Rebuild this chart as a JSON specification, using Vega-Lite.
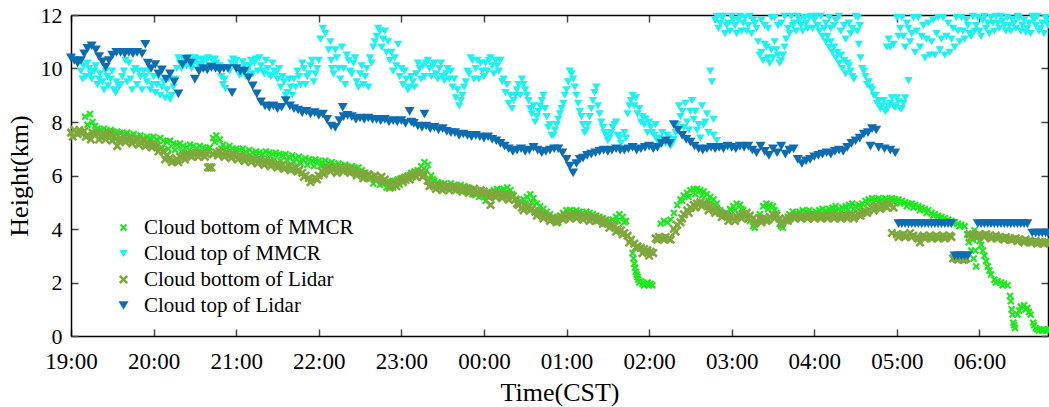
{
"$schema":"https://vega.github.io/schema/vega-lite/v6.json",
"width":977,"height":321,
"autosize":{"type":"none"},
"padding":{"left":71,"top":15,"right":1,"bottom":71},
"background":"white",
"config":{"view":{"stroke":null},"font":"Liberation Serif"},
"datasets":{
"pts":[
{"s":"MB","t":0.17,"h":8.2},{"s":"MB","t":0.2,"h":7.9},{"s":"MB","t":0.23,"h":8.3},{"s":"MB","t":0.26,"h":8.0},{"s":"MB","t":0.29,"h":7.85},{"s":"MB","t":0.32,"h":7.75},{"s":"MB","t":0.36,"h":7.7},{"s":"MB","t":0.4,"h":7.75},{"s":"MB","t":0.44,"h":7.65},{"s":"MB","t":0.48,"h":7.7},{"s":"MB","t":0.52,"h":7.6},{"s":"MB","t":0.56,"h":7.65},{"s":"MB","t":0.6,"h":7.6},{"s":"MB","t":0.64,"h":7.55},{"s":"MB","t":0.68,"h":7.6},{"s":"MB","t":0.72,"h":7.5},{"s":"MB","t":0.76,"h":7.55},{"s":"MB","t":0.8,"h":7.45},{"s":"MB","t":0.84,"h":7.5},{"s":"MB","t":0.88,"h":7.4},{"s":"MB","t":0.92,"h":7.45},{"s":"MB","t":0.96,"h":7.4},{"s":"MB","t":1.0,"h":7.45},{"s":"MB","t":1.04,"h":7.35},{"s":"MB","t":1.08,"h":7.4},{"s":"MB","t":1.12,"h":7.3},{"s":"MB","t":1.16,"h":7.25},{"s":"MB","t":1.2,"h":7.3},{"s":"MB","t":1.24,"h":7.2},{"s":"MB","t":1.28,"h":7.15},{"s":"MB","t":1.32,"h":7.2},{"s":"MB","t":1.36,"h":7.1},{"s":"MB","t":1.4,"h":7.05},{"s":"MB","t":1.44,"h":7.15},{"s":"MB","t":1.48,"h":7.1},{"s":"MB","t":1.52,"h":7.0},{"s":"MB","t":1.56,"h":7.1},{"s":"MB","t":1.6,"h":7.05},{"s":"MB","t":1.64,"h":7.0},{"s":"MB","t":1.68,"h":7.05},{"s":"MB","t":1.72,"h":7.4},{"s":"MB","t":1.76,"h":7.5},{"s":"MB","t":1.8,"h":7.35},{"s":"MB","t":1.84,"h":7.15},{"s":"MB","t":1.88,"h":7.05},{"s":"MB","t":1.92,"h":7.1},{"s":"MB","t":1.96,"h":7.0},
{"s":"MB","t":2.0,"h":7.0},{"s":"MB","t":2.04,"h":6.95},{"s":"MB","t":2.08,"h":7.0},{"s":"MB","t":2.12,"h":6.9},{"s":"MB","t":2.16,"h":6.95},{"s":"MB","t":2.2,"h":6.85},{"s":"MB","t":2.24,"h":6.9},{"s":"MB","t":2.28,"h":6.85},{"s":"MB","t":2.32,"h":6.8},{"s":"MB","t":2.36,"h":6.9},{"s":"MB","t":2.4,"h":6.85},{"s":"MB","t":2.44,"h":6.8},{"s":"MB","t":2.48,"h":6.85},{"s":"MB","t":2.52,"h":6.8},{"s":"MB","t":2.56,"h":6.75},{"s":"MB","t":2.6,"h":6.8},{"s":"MB","t":2.64,"h":6.7},{"s":"MB","t":2.68,"h":6.75},{"s":"MB","t":2.72,"h":6.65},{"s":"MB","t":2.76,"h":6.7},{"s":"MB","t":2.8,"h":6.6},{"s":"MB","t":2.84,"h":6.65},{"s":"MB","t":2.88,"h":6.6},{"s":"MB","t":2.92,"h":6.55},{"s":"MB","t":2.96,"h":6.6},{"s":"MB","t":3.0,"h":6.55},{"s":"MB","t":3.04,"h":6.5},{"s":"MB","t":3.08,"h":6.55},{"s":"MB","t":3.12,"h":6.45},{"s":"MB","t":3.16,"h":6.5},{"s":"MB","t":3.2,"h":6.4},{"s":"MB","t":3.24,"h":6.45},{"s":"MB","t":3.28,"h":6.35},{"s":"MB","t":3.32,"h":6.4},{"s":"MB","t":3.36,"h":6.3},{"s":"MB","t":3.4,"h":6.35},{"s":"MB","t":3.44,"h":6.25},{"s":"MB","t":3.48,"h":6.3},{"s":"MB","t":3.52,"h":6.2},{"s":"MB","t":3.56,"h":6.1},{"s":"MB","t":3.6,"h":6.0},{"s":"MB","t":3.64,"h":5.95},{"s":"MB","t":3.68,"h":5.85},{"s":"MB","t":3.72,"h":5.9},{"s":"MB","t":3.76,"h":5.8},{"s":"MB","t":3.8,"h":5.75},{"s":"MB","t":3.84,"h":5.8},{"s":"MB","t":3.88,"h":5.7},{"s":"MB","t":3.92,"h":5.8},{"s":"MB","t":3.96,"h":5.85},{"s":"MB","t":4.0,"h":5.9},{"s":"MB","t":4.04,"h":5.95},{"s":"MB","t":4.08,"h":6.0},{"s":"MB","t":4.12,"h":6.1},{"s":"MB","t":4.16,"h":6.15},{"s":"MB","t":4.2,"h":6.2},{"s":"MB","t":4.24,"h":6.35},{"s":"MB","t":4.28,"h":6.5},{"s":"MB","t":4.32,"h":6.4},{"s":"MB","t":4.36,"h":6.0},
{"s":"MB","t":4.4,"h":5.8},{"s":"MB","t":4.44,"h":5.75},{"s":"MB","t":4.48,"h":5.7},{"s":"MB","t":4.52,"h":5.7},{"s":"MB","t":4.56,"h":5.65},{"s":"MB","t":4.6,"h":5.7},{"s":"MB","t":4.64,"h":5.65},{"s":"MB","t":4.68,"h":5.6},{"s":"MB","t":4.72,"h":5.65},{"s":"MB","t":4.76,"h":5.6},{"s":"MB","t":4.8,"h":5.55},{"s":"MB","t":4.84,"h":5.5},{"s":"MB","t":4.88,"h":5.45},{"s":"MB","t":4.92,"h":5.35},{"s":"MB","t":4.96,"h":5.25},{"s":"MB","t":5.0,"h":5.2},{"s":"MB","t":5.04,"h":5.25},{"s":"MB","t":5.08,"h":5.35},{"s":"MB","t":5.12,"h":5.45},{"s":"MB","t":5.16,"h":5.5},{"s":"MB","t":5.2,"h":5.45},{"s":"MB","t":5.24,"h":5.5},{"s":"MB","t":5.28,"h":5.55},{"s":"MB","t":5.32,"h":5.45},{"s":"MB","t":5.36,"h":5.25},{"s":"MB","t":5.4,"h":5.1},{"s":"MB","t":5.44,"h":5.05},{"s":"MB","t":5.48,"h":5.1},{"s":"MB","t":5.52,"h":5.2},{"s":"MB","t":5.56,"h":5.3},{"s":"MB","t":5.6,"h":5.15},{"s":"MB","t":5.64,"h":4.95},{"s":"MB","t":5.68,"h":4.85},{"s":"MB","t":5.72,"h":4.75},{"s":"MB","t":5.76,"h":4.65},{"s":"MB","t":5.8,"h":4.55},{"s":"MB","t":5.84,"h":4.45},{"s":"MB","t":5.88,"h":4.4},{"s":"MB","t":5.92,"h":4.5},{"s":"MB","t":5.96,"h":4.6},{"s":"MB","t":6.0,"h":4.7},{"s":"MB","t":6.04,"h":4.7},{"s":"MB","t":6.08,"h":4.65},{"s":"MB","t":6.12,"h":4.7},{"s":"MB","t":6.16,"h":4.65},{"s":"MB","t":6.2,"h":4.6},{"s":"MB","t":6.24,"h":4.65},{"s":"MB","t":6.28,"h":4.6},{"s":"MB","t":6.32,"h":4.55},{"s":"MB","t":6.36,"h":4.5},{"s":"MB","t":6.4,"h":4.45},{"s":"MB","t":6.44,"h":4.4},{"s":"MB","t":6.48,"h":4.35},{"s":"MB","t":6.52,"h":4.3},{"s":"MB","t":6.56,"h":4.35},{"s":"MB","t":6.6,"h":4.45},{"s":"MB","t":6.64,"h":4.55},{"s":"MB","t":6.68,"h":4.45},{"s":"MB","t":6.72,"h":4.3},{"s":"MB","t":6.8,"h":3.1},{"s":"MB","t":6.82,"h":2.7},{"s":"MB","t":6.84,"h":2.4},{"s":"MB","t":6.86,"h":2.2},{"s":"MB","t":6.88,"h":2.0},{"s":"MB","t":6.92,"h":1.95},{"s":"MB","t":6.96,"h":1.95},{"s":"MB","t":7.0,"h":1.9},{"s":"MB","t":7.04,"h":1.9},
{"s":"MB","t":7.14,"h":4.2},{"s":"MB","t":7.18,"h":4.3},{"s":"MB","t":7.22,"h":4.25},{"s":"MB","t":7.26,"h":4.35},{"s":"MB","t":7.3,"h":4.6},{"s":"MB","t":7.34,"h":4.9},{"s":"MB","t":7.38,"h":5.1},{"s":"MB","t":7.42,"h":5.25},{"s":"MB","t":7.46,"h":5.35},{"s":"MB","t":7.5,"h":5.45},{"s":"MB","t":7.54,"h":5.5},{"s":"MB","t":7.58,"h":5.5},{"s":"MB","t":7.62,"h":5.45},{"s":"MB","t":7.66,"h":5.4},{"s":"MB","t":7.7,"h":5.3},{"s":"MB","t":7.74,"h":5.2},{"s":"MB","t":7.78,"h":5.1},{"s":"MB","t":7.82,"h":4.95},{"s":"MB","t":7.86,"h":4.7},{"s":"MB","t":7.9,"h":4.5},{"s":"MB","t":7.94,"h":4.6},{"s":"MB","t":7.98,"h":4.75},{"s":"MB","t":8.02,"h":4.85},{"s":"MB","t":8.06,"h":4.95},{"s":"MB","t":8.1,"h":4.9},{"s":"MB","t":8.14,"h":4.7},{"s":"MB","t":8.18,"h":4.5},{"s":"MB","t":8.22,"h":4.3},{"s":"MB","t":8.26,"h":4.1},{"s":"MB","t":8.3,"h":4.25},{"s":"MB","t":8.34,"h":4.55},{"s":"MB","t":8.38,"h":4.85},{"s":"MB","t":8.42,"h":4.95},{"s":"MB","t":8.46,"h":4.9},{"s":"MB","t":8.5,"h":4.85},{"s":"MB","t":8.54,"h":4.6},{"s":"MB","t":8.58,"h":4.2},{"s":"MB","t":8.62,"h":4.05},{"s":"MB","t":8.66,"h":4.3},{"s":"MB","t":8.7,"h":4.55},{"s":"MB","t":8.74,"h":4.65},{"s":"MB","t":8.78,"h":4.6},{"s":"MB","t":8.82,"h":4.65},{"s":"MB","t":8.86,"h":4.7},{"s":"MB","t":8.9,"h":4.65},{"s":"MB","t":8.94,"h":4.7},{"s":"MB","t":8.98,"h":4.6},{"s":"MB","t":9.02,"h":4.65},{"s":"MB","t":9.06,"h":4.7},{"s":"MB","t":9.1,"h":4.75},{"s":"MB","t":9.14,"h":4.7},{"s":"MB","t":9.18,"h":4.75},{"s":"MB","t":9.22,"h":4.8},{"s":"MB","t":9.26,"h":4.85},{"s":"MB","t":9.3,"h":4.75},{"s":"MB","t":9.34,"h":4.8},{"s":"MB","t":9.38,"h":4.85},{"s":"MB","t":9.42,"h":4.9},{"s":"MB","t":9.46,"h":4.95},{"s":"MB","t":9.5,"h":4.85},{"s":"MB","t":9.54,"h":4.9},{"s":"MB","t":9.58,"h":4.95},{"s":"MB","t":9.62,"h":5.05},{"s":"MB","t":9.66,"h":5.1},{"s":"MB","t":9.7,"h":5.15},{"s":"MB","t":9.74,"h":5.1},{"s":"MB","t":9.78,"h":5.15},{"s":"MB","t":9.82,"h":5.1},{"s":"MB","t":9.86,"h":5.15},{"s":"MB","t":9.9,"h":5.1},{"s":"MB","t":9.94,"h":5.15},{"s":"MB","t":9.98,"h":5.1},{"s":"MB","t":10.02,"h":5.1},{"s":"MB","t":10.06,"h":5.05},{"s":"MB","t":10.1,"h":5.0},{"s":"MB","t":10.14,"h":4.95},{"s":"MB","t":10.18,"h":4.95},{"s":"MB","t":10.22,"h":4.9},{"s":"MB","t":10.26,"h":4.85},{"s":"MB","t":10.3,"h":4.8},{"s":"MB","t":10.34,"h":4.75},{"s":"MB","t":10.38,"h":4.7},{"s":"MB","t":10.42,"h":4.6},{"s":"MB","t":10.46,"h":4.55},{"s":"MB","t":10.5,"h":4.5},{"s":"MB","t":10.54,"h":4.45},{"s":"MB","t":10.58,"h":4.4},{"s":"MB","t":10.62,"h":4.35},{"s":"MB","t":10.66,"h":4.3},{"s":"MB","t":10.7,"h":4.25},{"s":"MB","t":10.74,"h":4.2},{"s":"MB","t":10.78,"h":4.15},{"s":"MB","t":10.82,"h":4.1},{"s":"MB","t":10.85,"h":3.8},{"s":"MB","t":10.87,"h":3.5},{"s":"MB","t":10.9,"h":3.2},{"s":"MB","t":10.93,"h":2.9},{"s":"MB","t":10.96,"h":2.6},{"s":"MB","t":10.94,"h":3.95},{"s":"MB","t":10.98,"h":3.7},{"s":"MB","t":11.02,"h":3.4},{"s":"MB","t":11.06,"h":3.0},{"s":"MB","t":11.1,"h":2.6},{"s":"MB","t":11.14,"h":2.3},{"s":"MB","t":11.18,"h":2.1},{"s":"MB","t":11.22,"h":2.05},{"s":"MB","t":11.26,"h":2.0},{"s":"MB","t":11.3,"h":1.95},{"s":"MB","t":11.34,"h":1.9},{"s":"MB","t":11.37,"h":1.5},{"s":"MB","t":11.39,"h":1.0},{"s":"MB","t":11.41,"h":0.5},{"s":"MB","t":11.43,"h":0.3},{"s":"MB","t":11.46,"h":0.8},{"s":"MB","t":11.5,"h":1.1},{"s":"MB","t":11.54,"h":1.15},{"s":"MB","t":11.58,"h":1.05},{"s":"MB","t":11.62,"h":0.8},{"s":"MB","t":11.65,"h":0.5},{"s":"MB","t":11.68,"h":0.3},{"s":"MB","t":11.72,"h":0.2},{"s":"MB","t":11.76,"h":0.2},{"s":"MB","t":11.8,"h":0.2},{"s":"MB","t":11.83,"h":0.2},
{"s":"MB","t":0.3,"h":7.6},{"s":"MB","t":0.38,"h":7.45},{"s":"MB","t":0.46,"h":7.4},{"s":"MB","t":0.54,"h":7.35},{"s":"MB","t":0.62,"h":7.3},{"s":"MB","t":0.7,"h":7.3},{"s":"MB","t":0.78,"h":7.25},{"s":"MB","t":0.86,"h":7.2},{"s":"MB","t":0.94,"h":7.15},{"s":"MB","t":1.02,"h":7.15},{"s":"MB","t":1.1,"h":7.05},{"s":"MB","t":1.18,"h":7.0},{"s":"MB","t":1.26,"h":6.95},{"s":"MB","t":1.34,"h":6.9},{"s":"MB","t":1.42,"h":6.85},{"s":"MB","t":1.5,"h":6.85},{"s":"MB","t":1.58,"h":6.85},{"s":"MB","t":1.66,"h":6.9},{"s":"MB","t":1.74,"h":7.25},{"s":"MB","t":1.82,"h":7.0},{"s":"MB","t":1.9,"h":6.85},{"s":"MB","t":1.98,"h":6.8},{"s":"MB","t":2.06,"h":6.75},{"s":"MB","t":2.14,"h":6.7},{"s":"MB","t":2.22,"h":6.65},{"s":"MB","t":2.3,"h":6.6},{"s":"MB","t":2.38,"h":6.65},{"s":"MB","t":2.46,"h":6.6},{"s":"MB","t":2.54,"h":6.55},{"s":"MB","t":2.62,"h":6.55},{"s":"MB","t":2.7,"h":6.5},{"s":"MB","t":2.78,"h":6.45},{"s":"MB","t":2.86,"h":6.4},{"s":"MB","t":2.94,"h":6.35},{"s":"MB","t":3.02,"h":6.35},{"s":"MB","t":3.1,"h":6.3},{"s":"MB","t":3.18,"h":6.25},{"s":"MB","t":3.26,"h":6.2},{"s":"MB","t":3.34,"h":6.15},{"s":"MB","t":3.42,"h":6.1},{"s":"MB","t":3.5,"h":6.05},{"s":"MB","t":3.58,"h":5.9},{"s":"MB","t":3.66,"h":5.7},{"s":"MB","t":3.74,"h":5.65},{"s":"MB","t":3.82,"h":5.55},{"s":"MB","t":3.9,"h":5.55},{"s":"MB","t":3.98,"h":5.65},{"s":"MB","t":4.06,"h":5.8},{"s":"MB","t":4.14,"h":5.95},{"s":"MB","t":4.22,"h":6.05},{"s":"MB","t":4.3,"h":6.2},{"s":"MB","t":4.38,"h":5.85},{"s":"MB","t":4.46,"h":5.5},{"s":"MB","t":4.54,"h":5.5},{"s":"MB","t":4.62,"h":5.5},{"s":"MB","t":4.7,"h":5.45},{"s":"MB","t":4.78,"h":5.4},{"s":"MB","t":4.86,"h":5.3},{"s":"MB","t":4.94,"h":5.2},{"s":"MB","t":5.02,"h":5.05},{"s":"MB","t":5.1,"h":5.2},{"s":"MB","t":5.18,"h":5.3},{"s":"MB","t":5.26,"h":5.35},{"s":"MB","t":5.34,"h":5.3},{"s":"MB","t":5.42,"h":4.9},{"s":"MB","t":5.5,"h":4.95},{"s":"MB","t":5.58,"h":5.0},{"s":"MB","t":5.66,"h":4.7},{"s":"MB","t":5.74,"h":4.55},{"s":"MB","t":5.82,"h":4.35},{"s":"MB","t":5.9,"h":4.25},{"s":"MB","t":5.98,"h":4.45},{"s":"MB","t":6.06,"h":4.5},{"s":"MB","t":6.14,"h":4.5},{"s":"MB","t":6.22,"h":4.45},{"s":"MB","t":6.3,"h":4.4},{"s":"MB","t":6.38,"h":4.3},{"s":"MB","t":6.46,"h":4.2},{"s":"MB","t":6.54,"h":4.15},{"s":"MB","t":6.62,"h":4.3},{"s":"MB","t":6.7,"h":4.25},{"s":"MB","t":6.81,"h":2.9},{"s":"MB","t":6.83,"h":2.55},{"s":"MB","t":6.85,"h":2.3},{"s":"MB","t":6.87,"h":2.1},{"s":"MB","t":6.9,"h":2.05},{"s":"MB","t":6.94,"h":1.9},{"s":"MB","t":6.98,"h":2.0},{"s":"MB","t":7.02,"h":1.95},{"s":"MB","t":7.4,"h":5.05},{"s":"MB","t":7.48,"h":5.2},{"s":"MB","t":7.56,"h":5.3},{"s":"MB","t":7.64,"h":5.25},{"s":"MB","t":7.72,"h":5.05},{"s":"MB","t":7.8,"h":4.9},{"s":"MB","t":7.88,"h":4.55},{"s":"MB","t":7.96,"h":4.5},{"s":"MB","t":8.04,"h":4.7},{"s":"MB","t":8.12,"h":4.75},{"s":"MB","t":8.2,"h":4.4},{"s":"MB","t":8.28,"h":4.05},{"s":"MB","t":8.36,"h":4.4},{"s":"MB","t":8.44,"h":4.75},{"s":"MB","t":8.52,"h":4.7},{"s":"MB","t":8.6,"h":4.1},{"s":"MB","t":8.68,"h":4.45},{"s":"MB","t":8.76,"h":4.45},{"s":"MB","t":8.84,"h":4.5},{"s":"MB","t":8.92,"h":4.55},{"s":"MB","t":9.0,"h":4.5},{"s":"MB","t":9.08,"h":4.55},{"s":"MB","t":9.16,"h":4.6},{"s":"MB","t":9.24,"h":4.65},{"s":"MB","t":9.32,"h":4.65},{"s":"MB","t":9.4,"h":4.7},{"s":"MB","t":9.48,"h":4.75},{"s":"MB","t":9.56,"h":4.8},{"s":"MB","t":9.64,"h":4.95},{"s":"MB","t":9.72,"h":5.0},{"s":"MB","t":9.8,"h":5.0},{"s":"MB","t":9.88,"h":5.0},{"s":"MB","t":9.96,"h":5.0},{"s":"MB","t":10.04,"h":4.95},{"s":"MB","t":10.12,"h":4.85},{"s":"MB","t":10.2,"h":4.8},{"s":"MB","t":10.28,"h":4.7},{"s":"MB","t":10.36,"h":4.6},{"s":"MB","t":10.44,"h":4.5},{"s":"MB","t":10.52,"h":4.4},{"s":"MB","t":10.6,"h":4.3},{"s":"MB","t":10.68,"h":4.2},{"s":"MB","t":10.76,"h":4.1},{"s":"MB","t":10.92,"h":3.6},{"s":"MB","t":10.95,"h":3.2},{"s":"MB","t":11.0,"h":3.55},{"s":"MB","t":11.04,"h":3.2},{"s":"MB","t":11.08,"h":2.8},{"s":"MB","t":11.12,"h":2.45},{"s":"MB","t":11.2,"h":2.0},{"s":"MB","t":11.28,"h":1.9},{"s":"MB","t":11.38,"h":1.3},{"s":"MB","t":11.4,"h":0.8},{"s":"MB","t":11.42,"h":0.4},{"s":"MB","t":11.48,"h":0.95},{"s":"MB","t":11.56,"h":1.0},{"s":"MB","t":11.6,"h":0.9},{"s":"MB","t":11.66,"h":0.4},{"s":"MB","t":11.7,"h":0.25},{"s":"MB","t":11.78,"h":0.25},{"s":"MB","t":11.82,"h":0.25},

{"s":"MT","t":0.12,"h":9.9},{"s":"MT","t":0.15,"h":10.1},{"s":"MT","t":0.18,"h":9.7},{"s":"MT","t":0.22,"h":10.0},{"s":"MT","t":0.25,"h":9.6},{"s":"MT","t":0.28,"h":9.9},{"s":"MT","t":0.32,"h":9.4},{"s":"MT","t":0.35,"h":9.8},{"s":"MT","t":0.38,"h":9.5},{"s":"MT","t":0.42,"h":9.9},{"s":"MT","t":0.45,"h":9.35},{"s":"MT","t":0.48,"h":9.6},{"s":"MT","t":0.52,"h":9.2},{"s":"MT","t":0.55,"h":9.5},{"s":"MT","t":0.58,"h":9.3},{"s":"MT","t":0.62,"h":9.7},{"s":"MT","t":0.66,"h":10.3},{"s":"MT","t":0.7,"h":10.2},{"s":"MT","t":0.72,"h":9.6},{"s":"MT","t":0.76,"h":9.9},{"s":"MT","t":0.8,"h":9.4},{"s":"MT","t":0.84,"h":9.7},{"s":"MT","t":0.88,"h":9.9},{"s":"MT","t":0.92,"h":9.5},{"s":"MT","t":0.96,"h":9.2},{"s":"MT","t":1.0,"h":9.7},{"s":"MT","t":1.04,"h":9.4},{"s":"MT","t":1.08,"h":9.0},{"s":"MT","t":1.12,"h":9.5},{"s":"MT","t":1.16,"h":9.2},{"s":"MT","t":1.2,"h":8.85},{"s":"MT","t":1.24,"h":9.3},{"s":"MT","t":1.28,"h":10.0},{"s":"MT","t":1.32,"h":10.2},{"s":"MT","t":1.36,"h":10.35},{"s":"MT","t":1.4,"h":10.1},{"s":"MT","t":1.44,"h":10.3},{"s":"MT","t":1.48,"h":10.2},{"s":"MT","t":1.52,"h":10.3},{"s":"MT","t":1.56,"h":10.15},{"s":"MT","t":1.6,"h":10.25},{"s":"MT","t":1.64,"h":10.3},{"s":"MT","t":1.68,"h":10.1},{"s":"MT","t":1.72,"h":10.25},{"s":"MT","t":1.76,"h":10.2},{"s":"MT","t":1.8,"h":10.1},{"s":"MT","t":1.84,"h":9.4},{"s":"MT","t":1.87,"h":9.25},{"s":"MT","t":1.9,"h":10.0},{"s":"MT","t":1.94,"h":10.2},{"s":"MT","t":1.98,"h":10.1},{"s":"MT","t":2.02,"h":10.0},{"s":"MT","t":2.06,"h":9.8},{"s":"MT","t":2.1,"h":10.1},{"s":"MT","t":2.14,"h":9.9},{"s":"MT","t":2.18,"h":10.3},{"s":"MT","t":2.22,"h":10.2},{"s":"MT","t":2.26,"h":9.9},{"s":"MT","t":2.3,"h":10.1},{"s":"MT","t":2.34,"h":9.8},{"s":"MT","t":2.38,"h":10.0},{"s":"MT","t":2.42,"h":9.7},{"s":"MT","t":2.46,"h":9.9},{"s":"MT","t":2.5,"h":9.6},{"s":"MT","t":2.54,"h":9.3},{"s":"MT","t":2.58,"h":9.5},{"s":"MT","t":2.62,"h":9.1},{"s":"MT","t":2.66,"h":9.3},{"s":"MT","t":2.7,"h":9.6},{"s":"MT","t":2.74,"h":9.9},{"s":"MT","t":2.78,"h":9.4},{"s":"MT","t":2.82,"h":10.0},{"s":"MT","t":2.86,"h":9.7},{"s":"MT","t":2.9,"h":10.1},{"s":"MT","t":2.94,"h":9.5},{"s":"MT","t":2.98,"h":10.0},{"s":"MT","t":3.02,"h":11.1},{"s":"MT","t":3.05,"h":11.5},{"s":"MT","t":3.08,"h":11.3},{"s":"MT","t":3.12,"h":10.7},{"s":"MT","t":3.15,"h":10.3},{"s":"MT","t":3.18,"h":9.8},{"s":"MT","t":3.22,"h":10.4},{"s":"MT","t":3.26,"h":9.6},{"s":"MT","t":3.3,"h":10.0},{"s":"MT","t":3.34,"h":10.5},{"s":"MT","t":3.38,"h":9.9},{"s":"MT","t":3.42,"h":10.2},{"s":"MT","t":3.46,"h":9.5},{"s":"MT","t":3.5,"h":9.8},{"s":"MT","t":3.54,"h":9.4},{"s":"MT","t":3.58,"h":10.0},{"s":"MT","t":3.62,"h":10.4},{"s":"MT","t":3.66,"h":10.8},{"s":"MT","t":3.7,"h":11.2},{"s":"MT","t":3.74,"h":11.4},{"s":"MT","t":3.78,"h":11.1},{"s":"MT","t":3.82,"h":10.6},{"s":"MT","t":3.86,"h":10.3},{"s":"MT","t":3.9,"h":9.9},{"s":"MT","t":3.94,"h":10.1},{"s":"MT","t":3.98,"h":9.7},{"s":"MT","t":4.02,"h":9.4},{"s":"MT","t":4.06,"h":9.6},{"s":"MT","t":4.1,"h":9.3},{"s":"MT","t":4.14,"h":9.5},{"s":"MT","t":4.18,"h":9.8},{"s":"MT","t":4.22,"h":10.0},{"s":"MT","t":4.26,"h":10.1},{"s":"MT","t":4.3,"h":10.2},{"s":"MT","t":4.34,"h":10.0},{"s":"MT","t":4.38,"h":10.1},{"s":"MT","t":4.42,"h":9.8},{"s":"MT","t":4.46,"h":10.0},{"s":"MT","t":4.5,"h":9.7},{"s":"MT","t":4.54,"h":9.8},{"s":"MT","t":4.58,"h":9.6},{"s":"MT","t":4.62,"h":9.3},{"s":"MT","t":4.66,"h":8.9},{"s":"MT","t":4.7,"h":8.6},{"s":"MT","t":4.74,"h":9.0},{"s":"MT","t":4.78,"h":9.5},{"s":"MT","t":4.82,"h":9.8},{"s":"MT","t":4.86,"h":10.3},{"s":"MT","t":4.9,"h":10.0},{"s":"MT","t":4.94,"h":9.6},{"s":"MT","t":4.98,"h":9.9},{"s":"MT","t":5.02,"h":10.2},{"s":"MT","t":5.06,"h":10.3},{"s":"MT","t":5.1,"h":10.1},{"s":"MT","t":5.14,"h":10.3},{"s":"MT","t":5.18,"h":9.9},{"s":"MT","t":5.22,"h":9.5},{"s":"MT","t":5.26,"h":9.1},{"s":"MT","t":5.3,"h":8.7},{"s":"MT","t":5.34,"h":8.5},{"s":"MT","t":5.38,"h":9.0},{"s":"MT","t":5.42,"h":9.4},{"s":"MT","t":5.46,"h":9.6},{"s":"MT","t":5.5,"h":9.2},{"s":"MT","t":5.54,"h":8.8},{"s":"MT","t":5.58,"h":8.3},{"s":"MT","t":5.62,"h":8.0},{"s":"MT","t":5.66,"h":8.4},{"s":"MT","t":5.7,"h":8.8},{"s":"MT","t":5.74,"h":8.5},{"s":"MT","t":5.78,"h":7.8},{"s":"MT","t":5.82,"h":7.5},{"s":"MT","t":5.86,"h":7.7},{"s":"MT","t":5.9,"h":8.1},{"s":"MT","t":5.94,"h":8.5},{"s":"MT","t":5.98,"h":9.0},{"s":"MT","t":6.02,"h":9.5},{"s":"MT","t":6.06,"h":9.8},{"s":"MT","t":6.1,"h":9.3},{"s":"MT","t":6.14,"h":8.7},{"s":"MT","t":6.18,"h":8.2},{"s":"MT","t":6.22,"h":7.6},{"s":"MT","t":6.26,"h":7.9},{"s":"MT","t":6.3,"h":8.5},{"s":"MT","t":6.34,"h":9.1},{"s":"MT","t":6.38,"h":8.6},{"s":"MT","t":6.42,"h":8.0},{"s":"MT","t":6.46,"h":7.6},{"s":"MT","t":6.5,"h":7.3},{"s":"MT","t":6.54,"h":7.6},{"s":"MT","t":6.58,"h":7.9},{"s":"MT","t":6.62,"h":7.5},{"s":"MT","t":6.66,"h":7.2},{"s":"MT","t":6.7,"h":7.6},{"s":"MT","t":6.74,"h":8.3},{"s":"MT","t":6.78,"h":8.8},{"s":"MT","t":6.82,"h":8.6},{"s":"MT","t":6.86,"h":8.3},{"s":"MT","t":6.9,"h":8.0},{"s":"MT","t":6.94,"h":7.9},{"s":"MT","t":6.98,"h":7.6},{"s":"MT","t":7.02,"h":7.8},{"s":"MT","t":7.06,"h":7.5},{"s":"MT","t":7.1,"h":7.3},{"s":"MT","t":7.14,"h":7.15},{"s":"MT","t":7.18,"h":7.3},{"s":"MT","t":7.22,"h":7.5},{"s":"MT","t":7.26,"h":7.1},{"s":"MT","t":7.3,"h":7.35},{"s":"MT","t":7.34,"h":7.9},{"s":"MT","t":7.38,"h":8.2},{"s":"MT","t":7.42,"h":7.8},{"s":"MT","t":7.46,"h":8.0},{"s":"MT","t":7.5,"h":8.4},{"s":"MT","t":7.54,"h":8.1},{"s":"MT","t":7.58,"h":7.7},{"s":"MT","t":7.62,"h":7.4},{"s":"MT","t":7.66,"h":7.9},{"s":"MT","t":7.7,"h":8.3},{"s":"MT","t":7.74,"h":9.9},{"s":"MT","t":7.76,"h":9.5},{"s":"MT","t":7.78,"h":8.1},
{"s":"MT","t":7.8,"h":11.8},{"s":"MT","t":7.84,"h":11.5},{"s":"MT","t":7.88,"h":11.9},{"s":"MT","t":7.92,"h":11.3},{"s":"MT","t":7.96,"h":11.7},{"s":"MT","t":8.0,"h":11.95},{"s":"MT","t":8.04,"h":11.6},{"s":"MT","t":8.08,"h":11.8},{"s":"MT","t":8.12,"h":11.4},{"s":"MT","t":8.16,"h":11.9},{"s":"MT","t":8.2,"h":11.6},{"s":"MT","t":8.24,"h":11.3},{"s":"MT","t":8.28,"h":11.7},{"s":"MT","t":8.32,"h":11.0},{"s":"MT","t":8.36,"h":10.6},{"s":"MT","t":8.4,"h":10.9},{"s":"MT","t":8.44,"h":10.4},{"s":"MT","t":8.48,"h":10.7},{"s":"MT","t":8.52,"h":11.0},{"s":"MT","t":8.56,"h":10.5},{"s":"MT","t":8.6,"h":10.3},{"s":"MT","t":8.64,"h":10.8},{"s":"MT","t":8.36,"h":11.8},{"s":"MT","t":8.44,"h":11.5},{"s":"MT","t":8.52,"h":11.9},{"s":"MT","t":8.6,"h":11.7},{"s":"MT","t":8.68,"h":11.5},{"s":"MT","t":8.72,"h":11.95},{"s":"MT","t":8.76,"h":11.7},{"s":"MT","t":8.8,"h":11.95},{"s":"MT","t":8.84,"h":11.6},{"s":"MT","t":8.88,"h":11.9},{"s":"MT","t":8.92,"h":11.5},{"s":"MT","t":8.96,"h":11.95},{"s":"MT","t":9.0,"h":11.8},{"s":"MT","t":9.04,"h":11.6},{"s":"MT","t":9.08,"h":11.95},{"s":"MT","t":9.1,"h":11.2},{"s":"MT","t":9.14,"h":11.0},{"s":"MT","t":9.18,"h":10.8},{"s":"MT","t":9.22,"h":10.6},{"s":"MT","t":9.26,"h":10.4},{"s":"MT","t":9.3,"h":10.2},{"s":"MT","t":9.34,"h":10.0},{"s":"MT","t":9.38,"h":9.8},{"s":"MT","t":9.42,"h":10.1},{"s":"MT","t":9.46,"h":9.7},{"s":"MT","t":9.14,"h":11.7},{"s":"MT","t":9.2,"h":11.5},{"s":"MT","t":9.26,"h":11.8},{"s":"MT","t":9.32,"h":11.4},{"s":"MT","t":9.38,"h":11.1},{"s":"MT","t":9.44,"h":11.3},{"s":"MT","t":9.5,"h":11.95},{"s":"MT","t":9.52,"h":11.4},{"s":"MT","t":9.54,"h":10.9},{"s":"MT","t":9.56,"h":10.4},{"s":"MT","t":9.58,"h":10.0},{"s":"MT","t":9.62,"h":9.7},{"s":"MT","t":9.66,"h":9.5},{"s":"MT","t":9.7,"h":9.2},{"s":"MT","t":9.74,"h":9.0},{"s":"MT","t":9.78,"h":8.8},{"s":"MT","t":9.82,"h":8.6},{"s":"MT","t":9.86,"h":8.4},{"s":"MT","t":9.9,"h":8.6},{"s":"MT","t":9.94,"h":8.9},{"s":"MT","t":9.98,"h":8.55},{"s":"MT","t":10.02,"h":8.75},{"s":"MT","t":10.06,"h":8.5},{"s":"MT","t":10.1,"h":8.9},{"s":"MT","t":10.14,"h":9.55},{"s":"MT","t":9.9,"h":11.1},{"s":"MT","t":9.92,"h":10.8},{"s":"MT","t":9.96,"h":10.9},
{"s":"MT","t":10.0,"h":11.9},{"s":"MT","t":10.04,"h":11.5},{"s":"MT","t":10.08,"h":11.2},{"s":"MT","t":10.12,"h":11.7},{"s":"MT","t":10.16,"h":11.0},{"s":"MT","t":10.2,"h":11.9},{"s":"MT","t":10.24,"h":11.4},{"s":"MT","t":10.28,"h":10.8},{"s":"MT","t":10.32,"h":11.6},{"s":"MT","t":10.36,"h":11.1},{"s":"MT","t":10.4,"h":10.5},{"s":"MT","t":10.44,"h":11.8},{"s":"MT","t":10.48,"h":11.3},{"s":"MT","t":10.52,"h":10.7},{"s":"MT","t":10.56,"h":11.9},{"s":"MT","t":10.6,"h":11.2},{"s":"MT","t":10.64,"h":10.6},{"s":"MT","t":10.68,"h":11.5},{"s":"MT","t":10.72,"h":11.9},{"s":"MT","t":10.76,"h":11.0},{"s":"MT","t":10.8,"h":11.4},{"s":"MT","t":10.84,"h":11.8},{"s":"MT","t":10.88,"h":11.3},{"s":"MT","t":10.92,"h":11.95},{"s":"MT","t":10.96,"h":11.6},{"s":"MT","t":11.0,"h":11.4},{"s":"MT","t":11.04,"h":11.8},{"s":"MT","t":11.08,"h":11.5},{"s":"MT","t":11.12,"h":11.3},{"s":"MT","t":11.16,"h":11.7},{"s":"MT","t":11.2,"h":11.95},{"s":"MT","t":11.24,"h":11.5},{"s":"MT","t":11.28,"h":11.75},{"s":"MT","t":11.32,"h":11.4},{"s":"MT","t":11.36,"h":11.6},{"s":"MT","t":11.4,"h":11.85},{"s":"MT","t":11.44,"h":11.5},{"s":"MT","t":11.48,"h":11.9},{"s":"MT","t":11.52,"h":11.6},{"s":"MT","t":11.56,"h":11.35},{"s":"MT","t":11.6,"h":11.7},{"s":"MT","t":11.64,"h":11.95},{"s":"MT","t":11.68,"h":11.6},{"s":"MT","t":11.72,"h":11.4},{"s":"MT","t":11.76,"h":11.7},{"s":"MT","t":11.8,"h":11.9},{"s":"MT","t":11.83,"h":11.6},
{"s":"MT","t":0.14,"h":9.6},{"s":"MT","t":0.2,"h":10.2},{"s":"MT","t":0.24,"h":9.8},{"s":"MT","t":0.3,"h":10.1},{"s":"MT","t":0.34,"h":9.6},{"s":"MT","t":0.4,"h":9.2},{"s":"MT","t":0.44,"h":9.7},{"s":"MT","t":0.5,"h":9.9},{"s":"MT","t":0.54,"h":9.1},{"s":"MT","t":0.6,"h":9.4},{"s":"MT","t":0.64,"h":9.9},{"s":"MT","t":0.68,"h":9.5},{"s":"MT","t":0.74,"h":9.2},{"s":"MT","t":0.78,"h":10.0},{"s":"MT","t":0.82,"h":9.9},{"s":"MT","t":0.86,"h":9.2},{"s":"MT","t":0.9,"h":9.7},{"s":"MT","t":0.94,"h":9.9},{"s":"MT","t":0.98,"h":9.4},{"s":"MT","t":1.02,"h":9.1},{"s":"MT","t":1.06,"h":9.7},{"s":"MT","t":1.1,"h":9.3},{"s":"MT","t":1.14,"h":8.9},{"s":"MT","t":1.18,"h":9.6},{"s":"MT","t":1.22,"h":9.0},{"s":"MT","t":1.26,"h":9.6},{"s":"MT","t":1.3,"h":10.4},{"s":"MT","t":1.34,"h":10.0},{"s":"MT","t":1.38,"h":10.2},{"s":"MT","t":1.42,"h":10.4},{"s":"MT","t":1.46,"h":10.0},{"s":"MT","t":1.5,"h":10.4},{"s":"MT","t":1.54,"h":10.1},{"s":"MT","t":1.58,"h":10.35},{"s":"MT","t":1.62,"h":10.0},{"s":"MT","t":1.66,"h":10.4},{"s":"MT","t":1.7,"h":10.0},{"s":"MT","t":1.74,"h":10.35},{"s":"MT","t":1.78,"h":10.0},{"s":"MT","t":1.82,"h":9.7},{"s":"MT","t":1.86,"h":9.6},{"s":"MT","t":1.92,"h":9.9},{"s":"MT","t":1.96,"h":10.35},{"s":"MT","t":2.0,"h":10.3},{"s":"MT","t":2.04,"h":9.75},{"s":"MT","t":2.08,"h":10.25},{"s":"MT","t":2.12,"h":9.7},{"s":"MT","t":2.16,"h":10.1},{"s":"MT","t":2.2,"h":9.8},{"s":"MT","t":2.24,"h":10.35},{"s":"MT","t":2.28,"h":10.4},{"s":"MT","t":2.32,"h":9.9},{"s":"MT","t":2.36,"h":10.3},{"s":"MT","t":2.4,"h":9.75},{"s":"MT","t":2.44,"h":10.2},{"s":"MT","t":2.48,"h":9.8},{"s":"MT","t":2.52,"h":10.0},{"s":"MT","t":2.56,"h":9.7},{"s":"MT","t":2.6,"h":9.0},{"s":"MT","t":2.64,"h":9.6},{"s":"MT","t":2.68,"h":9.0},{"s":"MT","t":2.72,"h":9.3},{"s":"MT","t":2.76,"h":9.7},{"s":"MT","t":2.8,"h":10.2},{"s":"MT","t":2.84,"h":9.4},{"s":"MT","t":2.88,"h":9.8},{"s":"MT","t":2.92,"h":10.3},{"s":"MT","t":2.96,"h":9.8},{"s":"MT","t":3.0,"h":10.3},{"s":"MT","t":3.14,"h":11.0},{"s":"MT","t":3.16,"h":10.0},{"s":"MT","t":3.2,"h":10.7},{"s":"MT","t":3.24,"h":10.0},{"s":"MT","t":3.28,"h":10.8},{"s":"MT","t":3.32,"h":9.4},{"s":"MT","t":3.36,"h":10.3},{"s":"MT","t":3.4,"h":9.8},{"s":"MT","t":3.44,"h":10.4},{"s":"MT","t":3.48,"h":9.3},{"s":"MT","t":3.52,"h":10.1},{"s":"MT","t":3.56,"h":9.7},{"s":"MT","t":3.6,"h":9.3},{"s":"MT","t":3.64,"h":10.2},{"s":"MT","t":3.68,"h":11.0},{"s":"MT","t":3.72,"h":11.5},{"s":"MT","t":3.76,"h":10.8},{"s":"MT","t":3.8,"h":11.4},{"s":"MT","t":3.84,"h":11.0},{"s":"MT","t":3.88,"h":10.6},{"s":"MT","t":3.92,"h":10.4},{"s":"MT","t":3.96,"h":10.9},{"s":"MT","t":4.0,"h":10.0},{"s":"MT","t":4.04,"h":9.9},{"s":"MT","t":4.08,"h":9.2},{"s":"MT","t":4.12,"h":9.7},{"s":"MT","t":4.16,"h":9.3},{"s":"MT","t":4.2,"h":10.2},{"s":"MT","t":4.24,"h":9.6},{"s":"MT","t":4.28,"h":9.7},{"s":"MT","t":4.32,"h":10.3},{"s":"MT","t":4.36,"h":9.7},{"s":"MT","t":4.4,"h":10.2},{"s":"MT","t":4.44,"h":9.6},{"s":"MT","t":4.48,"h":10.2},{"s":"MT","t":4.52,"h":9.55},{"s":"MT","t":4.56,"h":10.0},{"s":"MT","t":4.6,"h":9.9},{"s":"MT","t":4.64,"h":9.6},{"s":"MT","t":4.68,"h":9.2},{"s":"MT","t":4.72,"h":8.8},{"s":"MT","t":4.76,"h":9.3},{"s":"MT","t":4.8,"h":9.9},{"s":"MT","t":4.84,"h":10.4},{"s":"MT","t":4.88,"h":9.6},{"s":"MT","t":4.92,"h":10.3},{"s":"MT","t":4.96,"h":10.2},{"s":"MT","t":5.0,"h":9.7},{"s":"MT","t":5.04,"h":9.9},{"s":"MT","t":5.08,"h":10.4},{"s":"MT","t":5.12,"h":9.8},{"s":"MT","t":5.16,"h":10.1},{"s":"MT","t":5.2,"h":10.3},{"s":"MT","t":5.24,"h":9.6},{"s":"MT","t":5.28,"h":9.4},{"s":"MT","t":5.32,"h":9.0},{"s":"MT","t":5.36,"h":8.8},{"s":"MT","t":5.4,"h":9.2},{"s":"MT","t":5.44,"h":9.0},{"s":"MT","t":5.48,"h":9.4},{"s":"MT","t":5.52,"h":9.0},{"s":"MT","t":5.56,"h":8.5},{"s":"MT","t":5.6,"h":8.6},{"s":"MT","t":5.64,"h":8.2},{"s":"MT","t":5.68,"h":8.6},{"s":"MT","t":5.72,"h":9.0},{"s":"MT","t":5.76,"h":8.2},{"s":"MT","t":5.8,"h":7.9},{"s":"MT","t":5.84,"h":7.5},{"s":"MT","t":5.88,"h":7.9},{"s":"MT","t":5.92,"h":8.3},{"s":"MT","t":5.96,"h":8.7},{"s":"MT","t":6.0,"h":9.2},{"s":"MT","t":6.04,"h":9.9},{"s":"MT","t":6.08,"h":9.6},{"s":"MT","t":6.12,"h":9.0},{"s":"MT","t":6.16,"h":8.4},{"s":"MT","t":6.2,"h":7.9},{"s":"MT","t":6.24,"h":7.7},{"s":"MT","t":6.28,"h":8.2},{"s":"MT","t":6.32,"h":8.8},{"s":"MT","t":6.36,"h":9.3},{"s":"MT","t":6.4,"h":8.3},{"s":"MT","t":6.44,"h":7.8},{"s":"MT","t":6.48,"h":7.5},{"s":"MT","t":6.52,"h":7.4},{"s":"MT","t":6.56,"h":7.8},{"s":"MT","t":6.6,"h":8.0},{"s":"MT","t":6.64,"h":7.4},{"s":"MT","t":6.68,"h":7.0},{"s":"MT","t":6.72,"h":7.4},{"s":"MT","t":6.76,"h":8.6},{"s":"MT","t":6.8,"h":9.0},{"s":"MT","t":6.84,"h":8.9},{"s":"MT","t":6.88,"h":8.5},{"s":"MT","t":6.92,"h":8.2},{"s":"MT","t":6.96,"h":8.1},{"s":"MT","t":7.0,"h":8.0},{"s":"MT","t":7.04,"h":7.6},{"s":"MT","t":7.08,"h":7.9},{"s":"MT","t":7.12,"h":7.4},{"s":"MT","t":7.16,"h":7.6},{"s":"MT","t":7.2,"h":7.2},{"s":"MT","t":7.24,"h":7.4},{"s":"MT","t":7.28,"h":7.2},{"s":"MT","t":7.32,"h":7.6},{"s":"MT","t":7.36,"h":8.6},{"s":"MT","t":7.4,"h":8.4},{"s":"MT","t":7.44,"h":8.7},{"s":"MT","t":7.48,"h":7.7},{"s":"MT","t":7.52,"h":8.8},{"s":"MT","t":7.56,"h":8.4},{"s":"MT","t":7.6,"h":7.9},{"s":"MT","t":7.64,"h":8.6},{"s":"MT","t":7.68,"h":8.0},{"s":"MT","t":7.72,"h":7.6},{"s":"MT","t":7.78,"h":7.5},{"s":"MT","t":7.82,"h":7.3},
{"s":"MT","t":7.82,"h":11.95},{"s":"MT","t":7.86,"h":11.7},{"s":"MT","t":7.9,"h":11.95},{"s":"MT","t":7.94,"h":11.6},{"s":"MT","t":7.98,"h":11.4},{"s":"MT","t":8.02,"h":11.8},{"s":"MT","t":8.06,"h":11.3},{"s":"MT","t":8.1,"h":11.95},{"s":"MT","t":8.14,"h":11.7},{"s":"MT","t":8.18,"h":11.4},{"s":"MT","t":8.22,"h":11.95},{"s":"MT","t":8.26,"h":11.8},{"s":"MT","t":8.3,"h":11.5},{"s":"MT","t":8.34,"h":10.5},{"s":"MT","t":8.38,"h":10.3},{"s":"MT","t":8.42,"h":10.8},{"s":"MT","t":8.46,"h":10.2},{"s":"MT","t":8.5,"h":10.4},{"s":"MT","t":8.54,"h":10.7},{"s":"MT","t":8.58,"h":10.2},{"s":"MT","t":8.62,"h":10.5},{"s":"MT","t":8.66,"h":11.1},{"s":"MT","t":8.4,"h":11.6},{"s":"MT","t":8.48,"h":11.9},{"s":"MT","t":8.56,"h":11.6},{"s":"MT","t":8.64,"h":11.95},{"s":"MT","t":8.7,"h":11.3},{"s":"MT","t":8.74,"h":11.6},{"s":"MT","t":8.78,"h":11.4},{"s":"MT","t":8.82,"h":11.8},{"s":"MT","t":8.86,"h":11.4},{"s":"MT","t":8.9,"h":11.7},{"s":"MT","t":8.94,"h":11.9},{"s":"MT","t":8.98,"h":11.5},{"s":"MT","t":9.02,"h":11.95},{"s":"MT","t":9.06,"h":11.4},{"s":"MT","t":9.12,"h":11.5},{"s":"MT","t":9.16,"h":11.2},{"s":"MT","t":9.2,"h":11.0},{"s":"MT","t":9.24,"h":10.8},{"s":"MT","t":9.28,"h":10.6},{"s":"MT","t":9.32,"h":10.5},{"s":"MT","t":9.36,"h":10.3},{"s":"MT","t":9.4,"h":10.2},{"s":"MT","t":9.44,"h":9.9},{"s":"MT","t":9.48,"h":9.6},{"s":"MT","t":9.18,"h":11.9},{"s":"MT","t":9.24,"h":11.6},{"s":"MT","t":9.3,"h":11.95},{"s":"MT","t":9.36,"h":11.6},{"s":"MT","t":9.42,"h":11.7},{"s":"MT","t":9.46,"h":11.5},{"s":"MT","t":9.53,"h":11.9},{"s":"MT","t":9.55,"h":11.6},{"s":"MT","t":9.6,"h":9.9},{"s":"MT","t":9.64,"h":9.4},{"s":"MT","t":9.68,"h":9.3},{"s":"MT","t":9.72,"h":9.0},{"s":"MT","t":9.76,"h":8.7},{"s":"MT","t":9.8,"h":8.5},{"s":"MT","t":9.84,"h":8.8},{"s":"MT","t":9.88,"h":8.45},{"s":"MT","t":9.92,"h":8.7},{"s":"MT","t":9.96,"h":8.6},{"s":"MT","t":10.0,"h":8.9},{"s":"MT","t":10.04,"h":8.5},{"s":"MT","t":10.08,"h":8.7},{"s":"MT","t":9.88,"h":10.8},
{"s":"MT","t":10.02,"h":11.2},{"s":"MT","t":10.06,"h":11.9},{"s":"MT","t":10.1,"h":10.8},{"s":"MT","t":10.14,"h":11.5},{"s":"MT","t":10.18,"h":11.3},{"s":"MT","t":10.22,"h":10.6},{"s":"MT","t":10.26,"h":11.9},{"s":"MT","t":10.3,"h":11.2},{"s":"MT","t":10.34,"h":10.4},{"s":"MT","t":10.38,"h":11.7},{"s":"MT","t":10.42,"h":11.0},{"s":"MT","t":10.46,"h":10.5},{"s":"MT","t":10.5,"h":11.9},{"s":"MT","t":10.54,"h":11.1},{"s":"MT","t":10.58,"h":10.5},{"s":"MT","t":10.62,"h":11.7},{"s":"MT","t":10.66,"h":11.1},{"s":"MT","t":10.7,"h":10.8},{"s":"MT","t":10.74,"h":11.4},{"s":"MT","t":10.78,"h":11.9},{"s":"MT","t":10.82,"h":11.1},{"s":"MT","t":10.86,"h":11.6},{"s":"MT","t":10.9,"h":11.2},{"s":"MT","t":10.94,"h":11.4},{"s":"MT","t":10.98,"h":11.9},{"s":"MT","t":11.02,"h":11.2},{"s":"MT","t":11.06,"h":11.95},{"s":"MT","t":11.1,"h":11.7},{"s":"MT","t":11.14,"h":11.9},{"s":"MT","t":11.18,"h":11.4},{"s":"MT","t":11.22,"h":11.7},{"s":"MT","t":11.26,"h":11.95},{"s":"MT","t":11.3,"h":11.6},{"s":"MT","t":11.34,"h":11.9},{"s":"MT","t":11.38,"h":11.4},{"s":"MT","t":11.42,"h":11.7},{"s":"MT","t":11.46,"h":11.95},{"s":"MT","t":11.5,"h":11.4},{"s":"MT","t":11.54,"h":11.8},{"s":"MT","t":11.58,"h":11.5},{"s":"MT","t":11.62,"h":11.3},{"s":"MT","t":11.66,"h":11.8},{"s":"MT","t":11.7,"h":11.95},{"s":"MT","t":11.74,"h":11.5},{"s":"MT","t":11.78,"h":11.3},{"s":"MT","t":11.82,"h":11.8},

{"s":"LB","t":0.0,"h":7.6},{"s":"LB","t":0.04,"h":7.7},{"s":"LB","t":0.08,"h":7.55},{"s":"LB","t":0.12,"h":7.6},{"s":"LB","t":0.16,"h":7.65},{"s":"LB","t":0.2,"h":7.5},{"s":"LB","t":0.24,"h":7.35},{"s":"LB","t":0.28,"h":7.55},{"s":"LB","t":0.32,"h":7.6},{"s":"LB","t":0.36,"h":7.45},{"s":"LB","t":0.4,"h":7.5},{"s":"LB","t":0.44,"h":7.55},{"s":"LB","t":0.48,"h":7.6},{"s":"LB","t":0.52,"h":7.45},{"s":"LB","t":0.56,"h":7.1},{"s":"LB","t":0.6,"h":7.4},{"s":"LB","t":0.64,"h":7.45},{"s":"LB","t":0.68,"h":7.35},{"s":"LB","t":0.72,"h":7.4},{"s":"LB","t":0.76,"h":7.3},{"s":"LB","t":0.8,"h":7.35},{"s":"LB","t":0.84,"h":7.25},{"s":"LB","t":0.88,"h":7.3},{"s":"LB","t":0.92,"h":7.2},{"s":"LB","t":0.96,"h":7.15},{"s":"LB","t":1.0,"h":7.2},{"s":"LB","t":1.04,"h":7.1},{"s":"LB","t":1.08,"h":7.0},{"s":"LB","t":1.12,"h":6.9},{"s":"LB","t":1.16,"h":6.75},{"s":"LB","t":1.2,"h":6.65},{"s":"LB","t":1.24,"h":6.55},{"s":"LB","t":1.28,"h":6.6},{"s":"LB","t":1.32,"h":6.7},{"s":"LB","t":1.36,"h":6.75},{"s":"LB","t":1.4,"h":6.8},{"s":"LB","t":1.44,"h":6.75},{"s":"LB","t":1.48,"h":6.8},{"s":"LB","t":1.52,"h":6.85},{"s":"LB","t":1.56,"h":6.8},{"s":"LB","t":1.6,"h":6.85},{"s":"LB","t":1.64,"h":6.8},{"s":"LB","t":1.66,"h":6.3},{"s":"LB","t":1.7,"h":6.3},{"s":"LB","t":1.72,"h":6.8},{"s":"LB","t":1.76,"h":6.85},{"s":"LB","t":1.8,"h":6.9},{"s":"LB","t":1.84,"h":6.8},{"s":"LB","t":1.88,"h":6.85},{"s":"LB","t":1.92,"h":6.75},{"s":"LB","t":1.96,"h":6.8},{"s":"LB","t":2.0,"h":6.7},{"s":"LB","t":2.04,"h":6.75},{"s":"LB","t":2.08,"h":6.65},{"s":"LB","t":2.12,"h":6.7},{"s":"LB","t":2.16,"h":6.6},{"s":"LB","t":2.2,"h":6.65},{"s":"LB","t":2.24,"h":6.55},{"s":"LB","t":2.28,"h":6.6},{"s":"LB","t":2.32,"h":6.5},{"s":"LB","t":2.36,"h":6.55},{"s":"LB","t":2.4,"h":6.5},{"s":"LB","t":2.44,"h":6.45},{"s":"LB","t":2.48,"h":6.4},{"s":"LB","t":2.52,"h":6.35},{"s":"LB","t":2.56,"h":6.4},{"s":"LB","t":2.6,"h":6.3},{"s":"LB","t":2.64,"h":6.35},{"s":"LB","t":2.68,"h":6.25},{"s":"LB","t":2.72,"h":6.3},{"s":"LB","t":2.76,"h":6.2},{"s":"LB","t":2.8,"h":6.1},{"s":"LB","t":2.84,"h":6.0},{"s":"LB","t":2.88,"h":5.9},{"s":"LB","t":2.92,"h":5.85},{"s":"LB","t":2.96,"h":5.9},{"s":"LB","t":3.0,"h":6.0},{"s":"LB","t":3.04,"h":6.15},{"s":"LB","t":3.08,"h":6.25},{"s":"LB","t":3.12,"h":6.3},{"s":"LB","t":3.16,"h":6.25},{"s":"LB","t":3.2,"h":6.3},{"s":"LB","t":3.24,"h":6.2},{"s":"LB","t":3.28,"h":6.25},{"s":"LB","t":3.32,"h":6.3},{"s":"LB","t":3.36,"h":6.2},{"s":"LB","t":3.4,"h":6.25},{"s":"LB","t":3.44,"h":6.15},{"s":"LB","t":3.48,"h":6.1},{"s":"LB","t":3.52,"h":6.05},{"s":"LB","t":3.56,"h":6.0},{"s":"LB","t":3.6,"h":6.05},{"s":"LB","t":3.64,"h":5.95},{"s":"LB","t":3.68,"h":6.0},{"s":"LB","t":3.72,"h":5.9},{"s":"LB","t":3.76,"h":5.95},{"s":"LB","t":3.8,"h":5.85},{"s":"LB","t":3.84,"h":5.75},{"s":"LB","t":3.88,"h":5.65},{"s":"LB","t":3.92,"h":5.7},{"s":"LB","t":3.96,"h":5.8},{"s":"LB","t":4.0,"h":5.85},{"s":"LB","t":4.04,"h":5.9},{"s":"LB","t":4.08,"h":5.95},{"s":"LB","t":4.12,"h":6.0},{"s":"LB","t":4.16,"h":6.05},{"s":"LB","t":4.2,"h":6.1},{"s":"LB","t":4.24,"h":6.15},{"s":"LB","t":4.28,"h":6.05},{"s":"LB","t":4.32,"h":5.8},{"s":"LB","t":4.36,"h":5.65},{"s":"LB","t":4.4,"h":5.6},{"s":"LB","t":4.44,"h":5.65},{"s":"LB","t":4.48,"h":5.6},{"s":"LB","t":4.52,"h":5.55},{"s":"LB","t":4.56,"h":5.6},{"s":"LB","t":4.6,"h":5.55},{"s":"LB","t":4.64,"h":5.6},{"s":"LB","t":4.68,"h":5.55},{"s":"LB","t":4.72,"h":5.5},{"s":"LB","t":4.76,"h":5.55},{"s":"LB","t":4.8,"h":5.5},{"s":"LB","t":4.84,"h":5.45},{"s":"LB","t":4.88,"h":5.5},{"s":"LB","t":4.92,"h":5.4},{"s":"LB","t":4.96,"h":5.45},{"s":"LB","t":5.0,"h":5.4},{"s":"LB","t":5.04,"h":5.35},{"s":"LB","t":5.08,"h":4.9},{"s":"LB","t":5.1,"h":5.3},{"s":"LB","t":5.14,"h":5.35},{"s":"LB","t":5.18,"h":5.3},{"s":"LB","t":5.22,"h":5.25},{"s":"LB","t":5.26,"h":5.3},{"s":"LB","t":5.3,"h":5.25},{"s":"LB","t":5.34,"h":5.2},{"s":"LB","t":5.38,"h":5.1},{"s":"LB","t":5.42,"h":4.9},{"s":"LB","t":5.46,"h":4.8},{"s":"LB","t":5.5,"h":4.85},{"s":"LB","t":5.54,"h":4.8},{"s":"LB","t":5.58,"h":4.75},{"s":"LB","t":5.62,"h":4.65},{"s":"LB","t":5.66,"h":4.6},{"s":"LB","t":5.7,"h":4.55},{"s":"LB","t":5.74,"h":4.5},{"s":"LB","t":5.78,"h":4.45},{"s":"LB","t":5.82,"h":4.4},{"s":"LB","t":5.86,"h":4.35},{"s":"LB","t":5.9,"h":4.4},{"s":"LB","t":5.94,"h":4.45},{"s":"LB","t":5.98,"h":4.5},{"s":"LB","t":6.02,"h":4.55},{"s":"LB","t":6.06,"h":4.5},{"s":"LB","t":6.1,"h":4.55},{"s":"LB","t":6.14,"h":4.5},{"s":"LB","t":6.18,"h":4.45},{"s":"LB","t":6.22,"h":4.5},{"s":"LB","t":6.26,"h":4.45},{"s":"LB","t":6.3,"h":4.4},{"s":"LB","t":6.34,"h":4.45},{"s":"LB","t":6.38,"h":4.4},{"s":"LB","t":6.42,"h":4.35},{"s":"LB","t":6.46,"h":4.3},{"s":"LB","t":6.5,"h":4.2},{"s":"LB","t":6.54,"h":4.15},{"s":"LB","t":6.58,"h":4.1},{"s":"LB","t":6.62,"h":4.0},{"s":"LB","t":6.66,"h":3.95},{"s":"LB","t":6.7,"h":3.85},{"s":"LB","t":6.74,"h":3.75},{"s":"LB","t":6.78,"h":3.6},{"s":"LB","t":6.82,"h":3.45},{"s":"LB","t":6.86,"h":3.35},{"s":"LB","t":6.9,"h":3.3},{"s":"LB","t":6.94,"h":3.25},{"s":"LB","t":6.98,"h":3.2},{"s":"LB","t":7.02,"h":3.15},{"s":"LB","t":7.05,"h":3.1},{"s":"LB","t":7.08,"h":3.65},{"s":"LB","t":7.12,"h":3.7},{"s":"LB","t":7.16,"h":3.65},{"s":"LB","t":7.2,"h":3.7},{"s":"LB","t":7.24,"h":3.65},{"s":"LB","t":7.3,"h":4.0},{"s":"LB","t":7.34,"h":4.15},{"s":"LB","t":7.38,"h":4.25},{"s":"LB","t":7.42,"h":4.55},{"s":"LB","t":7.46,"h":4.7},{"s":"LB","t":7.5,"h":4.8},{"s":"LB","t":7.54,"h":4.9},{"s":"LB","t":7.58,"h":4.95},{"s":"LB","t":7.62,"h":5.0},{"s":"LB","t":7.66,"h":4.95},{"s":"LB","t":7.7,"h":4.9},{"s":"LB","t":7.74,"h":4.85},{"s":"LB","t":7.78,"h":4.75},{"s":"LB","t":7.82,"h":4.7},{"s":"LB","t":7.86,"h":4.6},{"s":"LB","t":7.9,"h":4.55},{"s":"LB","t":7.94,"h":4.5},{"s":"LB","t":7.98,"h":4.45},{"s":"LB","t":8.02,"h":4.4},{"s":"LB","t":8.06,"h":4.45},{"s":"LB","t":8.1,"h":4.5},{"s":"LB","t":8.14,"h":4.55},{"s":"LB","t":8.18,"h":4.6},{"s":"LB","t":8.22,"h":4.5},{"s":"LB","t":8.26,"h":4.4},{"s":"LB","t":8.3,"h":4.3},{"s":"LB","t":8.34,"h":4.4},{"s":"LB","t":8.38,"h":4.35},{"s":"LB","t":8.42,"h":4.3},{"s":"LB","t":8.46,"h":4.45},{"s":"LB","t":8.5,"h":4.55},{"s":"LB","t":8.54,"h":4.5},{"s":"LB","t":8.58,"h":4.4},{"s":"LB","t":8.62,"h":4.3},{"s":"LB","t":8.66,"h":4.35},{"s":"LB","t":8.7,"h":4.4},{"s":"LB","t":8.74,"h":4.45},{"s":"LB","t":8.78,"h":4.5},{"s":"LB","t":8.82,"h":4.45},{"s":"LB","t":8.86,"h":4.5},{"s":"LB","t":8.9,"h":4.45},{"s":"LB","t":8.94,"h":4.5},{"s":"LB","t":8.98,"h":4.45},{"s":"LB","t":9.02,"h":4.5},{"s":"LB","t":9.06,"h":4.45},{"s":"LB","t":9.1,"h":4.5},{"s":"LB","t":9.14,"h":4.45},{"s":"LB","t":9.18,"h":4.5},{"s":"LB","t":9.22,"h":4.5},{"s":"LB","t":9.26,"h":4.45},{"s":"LB","t":9.3,"h":4.5},{"s":"LB","t":9.34,"h":4.45},{"s":"LB","t":9.38,"h":4.5},{"s":"LB","t":9.42,"h":4.5},{"s":"LB","t":9.46,"h":4.55},{"s":"LB","t":9.5,"h":4.5},{"s":"LB","t":9.54,"h":4.55},{"s":"LB","t":9.58,"h":4.6},{"s":"LB","t":9.62,"h":4.65},{"s":"LB","t":9.66,"h":4.7},{"s":"LB","t":9.7,"h":4.8},{"s":"LB","t":9.74,"h":4.85},{"s":"LB","t":9.78,"h":4.8},{"s":"LB","t":9.82,"h":4.9},{"s":"LB","t":9.86,"h":4.85},{"s":"LB","t":9.9,"h":4.95},{"s":"LB","t":9.94,"h":3.85},{"s":"LB","t":9.96,"h":4.8},{"s":"LB","t":10.0,"h":3.8},{"s":"LB","t":10.04,"h":3.75},{"s":"LB","t":10.08,"h":3.8},{"s":"LB","t":10.12,"h":3.75},{"s":"LB","t":10.16,"h":3.85},{"s":"LB","t":10.2,"h":3.75},{"s":"LB","t":10.24,"h":3.7},{"s":"LB","t":10.28,"h":3.5},{"s":"LB","t":10.32,"h":3.75},{"s":"LB","t":10.36,"h":3.7},{"s":"LB","t":10.4,"h":3.75},{"s":"LB","t":10.44,"h":3.7},{"s":"LB","t":10.48,"h":3.75},{"s":"LB","t":10.52,"h":3.7},{"s":"LB","t":10.56,"h":3.75},{"s":"LB","t":10.6,"h":3.7},{"s":"LB","t":10.64,"h":3.75},{"s":"LB","t":10.68,"h":2.9},{"s":"LB","t":10.72,"h":2.9},{"s":"LB","t":10.76,"h":2.95},{"s":"LB","t":10.8,"h":2.85},{"s":"LB","t":10.84,"h":2.9},{"s":"LB","t":10.88,"h":3.8},{"s":"LB","t":10.92,"h":3.8},{"s":"LB","t":10.96,"h":3.75},{"s":"LB","t":11.0,"h":3.8},{"s":"LB","t":11.04,"h":3.75},{"s":"LB","t":11.08,"h":3.8},{"s":"LB","t":11.12,"h":3.75},{"s":"LB","t":11.16,"h":3.7},{"s":"LB","t":11.2,"h":3.75},{"s":"LB","t":11.24,"h":3.7},{"s":"LB","t":11.28,"h":3.65},{"s":"LB","t":11.32,"h":3.7},{"s":"LB","t":11.36,"h":3.65},{"s":"LB","t":11.4,"h":3.6},{"s":"LB","t":11.44,"h":3.65},{"s":"LB","t":11.48,"h":3.6},{"s":"LB","t":11.52,"h":3.55},{"s":"LB","t":11.56,"h":3.6},{"s":"LB","t":11.6,"h":3.55},{"s":"LB","t":11.64,"h":3.5},{"s":"LB","t":11.68,"h":3.55},{"s":"LB","t":11.72,"h":3.5},{"s":"LB","t":11.76,"h":3.5},{"s":"LB","t":11.8,"h":3.5},{"s":"LB","t":11.83,"h":3.5},
{"s":"LB","t":0.02,"h":7.45},{"s":"LB","t":0.1,"h":7.7},{"s":"LB","t":0.18,"h":7.45},{"s":"LB","t":0.26,"h":7.6},{"s":"LB","t":0.34,"h":7.35},{"s":"LB","t":0.42,"h":7.35},{"s":"LB","t":0.5,"h":7.3},{"s":"LB","t":0.58,"h":7.3},{"s":"LB","t":0.66,"h":7.25},{"s":"LB","t":0.74,"h":7.2},{"s":"LB","t":0.82,"h":7.15},{"s":"LB","t":0.9,"h":7.1},{"s":"LB","t":0.98,"h":7.05},{"s":"LB","t":1.06,"h":6.9},{"s":"LB","t":1.14,"h":6.6},{"s":"LB","t":1.22,"h":6.5},{"s":"LB","t":1.3,"h":6.5},{"s":"LB","t":1.38,"h":6.6},{"s":"LB","t":1.46,"h":6.7},{"s":"LB","t":1.54,"h":6.7},{"s":"LB","t":1.62,"h":6.7},{"s":"LB","t":1.68,"h":6.3},{"s":"LB","t":1.78,"h":6.75},{"s":"LB","t":1.86,"h":6.7},{"s":"LB","t":1.94,"h":6.65},{"s":"LB","t":2.02,"h":6.6},{"s":"LB","t":2.1,"h":6.55},{"s":"LB","t":2.18,"h":6.5},{"s":"LB","t":2.26,"h":6.45},{"s":"LB","t":2.34,"h":6.4},{"s":"LB","t":2.42,"h":6.35},{"s":"LB","t":2.5,"h":6.3},{"s":"LB","t":2.58,"h":6.25},{"s":"LB","t":2.66,"h":6.2},{"s":"LB","t":2.74,"h":6.15},{"s":"LB","t":2.82,"h":5.95},{"s":"LB","t":2.9,"h":5.75},{"s":"LB","t":2.98,"h":5.85},{"s":"LB","t":3.06,"h":6.05},{"s":"LB","t":3.14,"h":6.15},{"s":"LB","t":3.22,"h":6.1},{"s":"LB","t":3.3,"h":6.15},{"s":"LB","t":3.38,"h":6.1},{"s":"LB","t":3.46,"h":6.0},{"s":"LB","t":3.54,"h":5.9},{"s":"LB","t":3.62,"h":5.9},{"s":"LB","t":3.7,"h":5.85},{"s":"LB","t":3.78,"h":5.75},{"s":"LB","t":3.86,"h":5.55},{"s":"LB","t":3.94,"h":5.6},{"s":"LB","t":4.02,"h":5.75},{"s":"LB","t":4.1,"h":5.85},{"s":"LB","t":4.18,"h":5.95},{"s":"LB","t":4.26,"h":5.95},{"s":"LB","t":4.34,"h":5.6},{"s":"LB","t":4.42,"h":5.5},{"s":"LB","t":4.5,"h":5.45},{"s":"LB","t":4.58,"h":5.45},{"s":"LB","t":4.66,"h":5.45},{"s":"LB","t":4.74,"h":5.4},{"s":"LB","t":4.82,"h":5.35},{"s":"LB","t":4.9,"h":5.3},{"s":"LB","t":4.98,"h":5.3},{"s":"LB","t":5.06,"h":5.2},{"s":"LB","t":5.14,"h":5.2},{"s":"LB","t":5.22,"h":5.15},{"s":"LB","t":5.3,"h":5.1},{"s":"LB","t":5.4,"h":4.95},{"s":"LB","t":5.48,"h":4.7},{"s":"LB","t":5.56,"h":4.7},{"s":"LB","t":5.64,"h":4.5},{"s":"LB","t":5.72,"h":4.4},{"s":"LB","t":5.8,"h":4.3},{"s":"LB","t":5.88,"h":4.25},{"s":"LB","t":5.96,"h":4.35},{"s":"LB","t":6.04,"h":4.4},{"s":"LB","t":6.12,"h":4.4},{"s":"LB","t":6.2,"h":4.35},{"s":"LB","t":6.28,"h":4.3},{"s":"LB","t":6.36,"h":4.3},{"s":"LB","t":6.44,"h":4.2},{"s":"LB","t":6.52,"h":4.05},{"s":"LB","t":6.6,"h":3.9},{"s":"LB","t":6.68,"h":3.8},{"s":"LB","t":6.76,"h":3.5},{"s":"LB","t":6.84,"h":3.3},{"s":"LB","t":6.92,"h":3.1},{"s":"LB","t":7.0,"h":3.0},{"s":"LB","t":7.1,"h":3.6},{"s":"LB","t":7.18,"h":3.6},{"s":"LB","t":7.26,"h":3.6},{"s":"LB","t":7.32,"h":3.9},{"s":"LB","t":7.4,"h":4.4},{"s":"LB","t":7.48,"h":4.6},{"s":"LB","t":7.56,"h":4.8},{"s":"LB","t":7.64,"h":4.85},{"s":"LB","t":7.72,"h":4.7},{"s":"LB","t":7.8,"h":4.6},{"s":"LB","t":7.88,"h":4.45},{"s":"LB","t":7.96,"h":4.3},{"s":"LB","t":8.04,"h":4.3},{"s":"LB","t":8.12,"h":4.4},{"s":"LB","t":8.2,"h":4.4},{"s":"LB","t":8.28,"h":4.2},{"s":"LB","t":8.36,"h":4.25},{"s":"LB","t":8.44,"h":4.35},{"s":"LB","t":8.52,"h":4.4},{"s":"LB","t":8.6,"h":4.2},{"s":"LB","t":8.68,"h":4.3},{"s":"LB","t":8.76,"h":4.4},{"s":"LB","t":8.84,"h":4.4},{"s":"LB","t":8.92,"h":4.4},{"s":"LB","t":9.0,"h":4.4},{"s":"LB","t":9.08,"h":4.4},{"s":"LB","t":9.16,"h":4.4},{"s":"LB","t":9.24,"h":4.4},{"s":"LB","t":9.32,"h":4.4},{"s":"LB","t":9.4,"h":4.4},{"s":"LB","t":9.48,"h":4.4},{"s":"LB","t":9.56,"h":4.5},{"s":"LB","t":9.64,"h":4.6},{"s":"LB","t":9.72,"h":4.7},{"s":"LB","t":9.8,"h":4.75},{"s":"LB","t":9.88,"h":4.8},{"s":"LB","t":10.02,"h":3.7},{"s":"LB","t":10.1,"h":3.7},{"s":"LB","t":10.18,"h":3.7},{"s":"LB","t":10.26,"h":3.65},{"s":"LB","t":10.34,"h":3.65},{"s":"LB","t":10.42,"h":3.65},{"s":"LB","t":10.5,"h":3.65},{"s":"LB","t":10.58,"h":3.65},{"s":"LB","t":10.66,"h":3.7},{"s":"LB","t":10.74,"h":2.85},{"s":"LB","t":10.82,"h":2.85},{"s":"LB","t":10.9,"h":3.7},{"s":"LB","t":10.98,"h":3.7},{"s":"LB","t":11.06,"h":3.7},{"s":"LB","t":11.14,"h":3.65},{"s":"LB","t":11.22,"h":3.65},{"s":"LB","t":11.3,"h":3.6},{"s":"LB","t":11.38,"h":3.6},{"s":"LB","t":11.46,"h":3.55},{"s":"LB","t":11.54,"h":3.5},{"s":"LB","t":11.62,"h":3.5},{"s":"LB","t":11.7,"h":3.45},{"s":"LB","t":11.78,"h":3.45},

{"s":"LT","t":0.0,"h":10.4},{"s":"LT","t":0.04,"h":10.3},{"s":"LT","t":0.08,"h":10.2},{"s":"LT","t":0.12,"h":10.3},{"s":"LT","t":0.16,"h":10.55},{"s":"LT","t":0.2,"h":10.75},{"s":"LT","t":0.25,"h":10.85},{"s":"LT","t":0.3,"h":10.7},{"s":"LT","t":0.34,"h":10.45},{"s":"LT","t":0.38,"h":10.25},{"s":"LT","t":0.42,"h":10.05},{"s":"LT","t":0.46,"h":10.3},{"s":"LT","t":0.5,"h":10.5},{"s":"LT","t":0.55,"h":10.6},{"s":"LT","t":0.6,"h":10.6},{"s":"LT","t":0.65,"h":10.55},{"s":"LT","t":0.7,"h":10.6},{"s":"LT","t":0.75,"h":10.55},{"s":"LT","t":0.8,"h":10.6},{"s":"LT","t":0.86,"h":10.55},{"s":"LT","t":0.9,"h":10.9},{"s":"LT","t":0.93,"h":10.2},{"s":"LT","t":0.97,"h":10.0},{"s":"LT","t":1.02,"h":10.15},{"s":"LT","t":1.06,"h":9.8},{"s":"LT","t":1.1,"h":9.95},{"s":"LT","t":1.15,"h":9.6},{"s":"LT","t":1.2,"h":9.8},{"s":"LT","t":1.25,"h":9.5},{"s":"LT","t":1.3,"h":9.05},{"s":"LT","t":1.35,"h":10.15},{"s":"LT","t":1.4,"h":10.35},{"s":"LT","t":1.45,"h":10.2},{"s":"LT","t":1.5,"h":9.6},{"s":"LT","t":1.55,"h":9.9},{"s":"LT","t":1.6,"h":10.0},{"s":"LT","t":1.65,"h":9.95},{"s":"LT","t":1.7,"h":10.05},{"s":"LT","t":1.75,"h":10.0},{"s":"LT","t":1.8,"h":9.95},{"s":"LT","t":1.85,"h":10.0},{"s":"LT","t":1.9,"h":10.0},{"s":"LT","t":1.95,"h":9.1},{"s":"LT","t":2.0,"h":10.0},{"s":"LT","t":2.05,"h":9.9},{"s":"LT","t":2.1,"h":9.9},{"s":"LT","t":2.15,"h":9.65},{"s":"LT","t":2.2,"h":9.35},{"s":"LT","t":2.25,"h":9.05},{"s":"LT","t":2.3,"h":8.75},{"s":"LT","t":2.35,"h":8.6},{"s":"LT","t":2.4,"h":8.55},{"s":"LT","t":2.45,"h":8.6},{"s":"LT","t":2.5,"h":8.5},{"s":"LT","t":2.55,"h":8.55},{"s":"LT","t":2.6,"h":8.8},{"s":"LT","t":2.65,"h":8.6},{"s":"LT","t":2.7,"h":8.5},{"s":"LT","t":2.75,"h":8.45},{"s":"LT","t":2.8,"h":8.35},{"s":"LT","t":2.85,"h":8.4},{"s":"LT","t":2.9,"h":8.3},{"s":"LT","t":2.95,"h":8.35},{"s":"LT","t":3.0,"h":8.25},{"s":"LT","t":3.05,"h":8.3},{"s":"LT","t":3.1,"h":8.1},{"s":"LT","t":3.15,"h":7.85},{"s":"LT","t":3.2,"h":7.8},{"s":"LT","t":3.25,"h":8.05},{"s":"LT","t":3.29,"h":8.55},{"s":"LT","t":3.3,"h":8.2},{"s":"LT","t":3.35,"h":8.25},{"s":"LT","t":3.4,"h":8.2},{"s":"LT","t":3.45,"h":8.1},{"s":"LT","t":3.5,"h":8.15},{"s":"LT","t":3.55,"h":8.1},{"s":"LT","t":3.6,"h":8.15},{"s":"LT","t":3.65,"h":8.1},{"s":"LT","t":3.7,"h":8.1},{"s":"LT","t":3.75,"h":8.05},{"s":"LT","t":3.8,"h":8.1},{"s":"LT","t":3.85,"h":8.0},{"s":"LT","t":3.9,"h":8.05},{"s":"LT","t":3.95,"h":8.0},{"s":"LT","t":4.0,"h":8.05},{"s":"LT","t":4.05,"h":7.95},{"s":"LT","t":4.1,"h":8.4},{"s":"LT","t":4.12,"h":8.0},{"s":"LT","t":4.15,"h":7.95},{"s":"LT","t":4.2,"h":7.85},{"s":"LT","t":4.25,"h":7.8},{"s":"LT","t":4.28,"h":8.3},{"s":"LT","t":4.3,"h":7.85},{"s":"LT","t":4.35,"h":7.75},{"s":"LT","t":4.4,"h":7.8},{"s":"LT","t":4.45,"h":7.7},{"s":"LT","t":4.5,"h":7.75},{"s":"LT","t":4.55,"h":7.65},{"s":"LT","t":4.6,"h":7.6},{"s":"LT","t":4.65,"h":7.6},{"s":"LT","t":4.7,"h":7.5},{"s":"LT","t":4.75,"h":7.55},{"s":"LT","t":4.8,"h":7.5},{"s":"LT","t":4.85,"h":7.45},{"s":"LT","t":4.9,"h":7.5},{"s":"LT","t":4.95,"h":7.45},{"s":"LT","t":5.0,"h":7.4},{"s":"LT","t":5.05,"h":7.45},{"s":"LT","t":5.1,"h":7.35},{"s":"LT","t":5.15,"h":7.3},{"s":"LT","t":5.2,"h":7.2},{"s":"LT","t":5.25,"h":7.1},{"s":"LT","t":5.3,"h":7.0},{"s":"LT","t":5.35,"h":6.9},{"s":"LT","t":5.4,"h":6.95},{"s":"LT","t":5.45,"h":7.0},{"s":"LT","t":5.5,"h":6.9},{"s":"LT","t":5.55,"h":6.95},{"s":"LT","t":5.6,"h":7.05},{"s":"LT","t":5.65,"h":6.95},{"s":"LT","t":5.7,"h":6.85},{"s":"LT","t":5.75,"h":6.9},{"s":"LT","t":5.8,"h":6.95},{"s":"LT","t":5.85,"h":7.0},{"s":"LT","t":5.9,"h":7.0},{"s":"LT","t":5.95,"h":6.85},{"s":"LT","t":6.0,"h":6.6},{"s":"LT","t":6.04,"h":6.35},{"s":"LT","t":6.08,"h":6.1},{"s":"LT","t":6.12,"h":6.45},{"s":"LT","t":6.16,"h":6.6},{"s":"LT","t":6.2,"h":6.65},{"s":"LT","t":6.25,"h":6.75},{"s":"LT","t":6.3,"h":6.8},{"s":"LT","t":6.35,"h":6.85},{"s":"LT","t":6.4,"h":6.9},{"s":"LT","t":6.45,"h":6.95},{"s":"LT","t":6.5,"h":6.9},{"s":"LT","t":6.55,"h":6.95},{"s":"LT","t":6.6,"h":7.0},{"s":"LT","t":6.65,"h":6.95},{"s":"LT","t":6.7,"h":6.95},{"s":"LT","t":6.75,"h":7.0},{"s":"LT","t":6.8,"h":7.05},{"s":"LT","t":6.85,"h":6.95},{"s":"LT","t":6.9,"h":7.0},{"s":"LT","t":6.95,"h":7.05},{"s":"LT","t":7.0,"h":7.1},{"s":"LT","t":7.05,"h":7.0},{"s":"LT","t":7.1,"h":7.05},{"s":"LT","t":7.15,"h":7.2},{"s":"LT","t":7.2,"h":7.3},{"s":"LT","t":7.25,"h":7.2},{"s":"LT","t":7.3,"h":7.9},{"s":"LT","t":7.35,"h":7.7},{"s":"LT","t":7.4,"h":7.5},{"s":"LT","t":7.45,"h":7.35},{"s":"LT","t":7.5,"h":7.25},{"s":"LT","t":7.55,"h":7.1},{"s":"LT","t":7.6,"h":7.0},{"s":"LT","t":7.65,"h":6.95},{"s":"LT","t":7.7,"h":7.0},{"s":"LT","t":7.75,"h":7.05},{"s":"LT","t":7.8,"h":7.0},{"s":"LT","t":7.85,"h":7.05},{"s":"LT","t":7.9,"h":7.0},{"s":"LT","t":7.95,"h":7.1},{"s":"LT","t":8.0,"h":7.05},{"s":"LT","t":8.05,"h":7.0},{"s":"LT","t":8.1,"h":7.1},{"s":"LT","t":8.15,"h":7.05},{"s":"LT","t":8.2,"h":7.1},{"s":"LT","t":8.25,"h":6.95},{"s":"LT","t":8.3,"h":6.85},{"s":"LT","t":8.35,"h":7.1},{"s":"LT","t":8.4,"h":6.9},{"s":"LT","t":8.45,"h":6.75},{"s":"LT","t":8.5,"h":7.0},{"s":"LT","t":8.55,"h":6.85},{"s":"LT","t":8.6,"h":7.1},{"s":"LT","t":8.65,"h":6.8},{"s":"LT","t":8.7,"h":6.95},{"s":"LT","t":8.75,"h":7.0},{"s":"LT","t":8.8,"h":6.6},{"s":"LT","t":8.85,"h":6.45},{"s":"LT","t":8.9,"h":6.55},{"s":"LT","t":8.95,"h":6.6},{"s":"LT","t":9.0,"h":6.7},{"s":"LT","t":9.05,"h":6.75},{"s":"LT","t":9.1,"h":6.8},{"s":"LT","t":9.15,"h":6.85},{"s":"LT","t":9.2,"h":6.8},{"s":"LT","t":9.25,"h":6.9},{"s":"LT","t":9.3,"h":6.95},{"s":"LT","t":9.35,"h":6.9},{"s":"LT","t":9.4,"h":7.05},{"s":"LT","t":9.45,"h":7.2},{"s":"LT","t":9.5,"h":7.3},{"s":"LT","t":9.55,"h":7.4},{"s":"LT","t":9.6,"h":7.55},{"s":"LT","t":9.65,"h":7.6},{"s":"LT","t":9.7,"h":7.75},{"s":"LT","t":9.75,"h":7.7},{"s":"LT","t":9.68,"h":7.1},{"s":"LT","t":9.78,"h":7.05},{"s":"LT","t":9.85,"h":7.0},{"s":"LT","t":9.92,"h":6.95},{"s":"LT","t":9.98,"h":6.85},
{"s":"LT","t":10.02,"h":4.2},{"s":"LT","t":10.06,"h":4.2},{"s":"LT","t":10.1,"h":4.2},{"s":"LT","t":10.14,"h":4.2},{"s":"LT","t":10.18,"h":4.2},{"s":"LT","t":10.22,"h":4.2},{"s":"LT","t":10.26,"h":4.2},{"s":"LT","t":10.3,"h":4.2},{"s":"LT","t":10.34,"h":4.2},{"s":"LT","t":10.38,"h":4.2},{"s":"LT","t":10.42,"h":4.2},{"s":"LT","t":10.46,"h":4.2},{"s":"LT","t":10.5,"h":4.2},{"s":"LT","t":10.54,"h":4.2},{"s":"LT","t":10.58,"h":4.2},{"s":"LT","t":10.62,"h":4.2},{"s":"LT","t":10.66,"h":4.2},{"s":"LT","t":10.7,"h":3.0},{"s":"LT","t":10.74,"h":3.0},{"s":"LT","t":10.78,"h":3.0},{"s":"LT","t":10.82,"h":3.0},{"s":"LT","t":10.86,"h":3.0},{"s":"LT","t":10.98,"h":4.2},{"s":"LT","t":11.02,"h":4.2},{"s":"LT","t":11.06,"h":4.2},{"s":"LT","t":11.1,"h":4.2},{"s":"LT","t":11.14,"h":4.2},{"s":"LT","t":11.18,"h":4.2},{"s":"LT","t":11.22,"h":4.2},{"s":"LT","t":11.26,"h":4.2},{"s":"LT","t":11.3,"h":4.2},{"s":"LT","t":11.34,"h":4.2},{"s":"LT","t":11.38,"h":4.2},{"s":"LT","t":11.42,"h":4.2},{"s":"LT","t":11.46,"h":4.2},{"s":"LT","t":11.5,"h":4.2},{"s":"LT","t":11.54,"h":4.2},{"s":"LT","t":11.58,"h":4.2},{"s":"LT","t":11.64,"h":3.85},{"s":"LT","t":11.68,"h":3.85},{"s":"LT","t":11.72,"h":3.85},{"s":"LT","t":11.76,"h":3.85},{"s":"LT","t":11.8,"h":3.85},{"s":"LT","t":11.83,"h":3.85}
]},
"layer":[
{"data":{"name":"pts"},
 "mark":{"type":"point","filled":true,"opacity":1,"strokeWidth":0},
 "encoding":{
  "x":{"field":"t","type":"quantitative","scale":{"domain":[0,11.83],"nice":false,"zero":false},
       "axis":{"orient":"bottom","values":[0,1,2,3,4,5,6,7,8,9,10,11],"labelExpr":"(((datum.value+19)%24)<10?'0':'')+((datum.value+19)%24)+':00'","labelFlush":false,"grid":false,"domainColor":"black","domainWidth":1.5,"tickColor":"#444","tickWidth":1.5,"tickSize":-7,"labelPadding":21,"labelFont":"Liberation Serif","labelFontSize":23,"labelColor":"black","title":"Time(CST)","titleFont":"Liberation Serif","titleFontSize":26,"titleFontWeight":"normal","titleColor":"black","titlePadding":6}},
  "y":{"field":"h","type":"quantitative","scale":{"domain":[0,12],"nice":false},
       "axis":{"orient":"left","values":[0,2,4,6,8,10,12],"labelFlush":false,"grid":false,"domainColor":"black","domainWidth":1.5,"tickColor":"#444","tickWidth":1.5,"tickSize":-7,"labelPadding":16,"labelFont":"Liberation Serif","labelFontSize":22,"labelColor":"black","title":"Height(km)","titleFont":"Liberation Serif","titleFontSize":26,"titleFontWeight":"normal","titleColor":"black","titlePadding":8}},
  "color":{"field":"s","type":"nominal","scale":{"domain":["MB","MT","LB","LT"],"range":["#1ee81e","#1cf2f2","#7ea83c","#0d6db3"]},
       "legend":{"title":null,"orient":"none","legendX":42,"legendY":202,"labelFont":"Liberation Serif","labelFontSize":21,"labelColor":"black","labelOffset":10,"labelLimit":0,"symbolSize":30,"rowPadding":4,"symbolStrokeWidth":0,
         "labelExpr":"datum.value=='MB'?'Cloud bottom of MMCR':datum.value=='MT'?'Cloud top of MMCR':datum.value=='LB'?'Cloud bottom of Lidar':'Cloud top of Lidar'"}},
  "shape":{"field":"s","type":"nominal","scale":{"domain":["MB","MT","LB","LT"],"range":["M-1,-0.6L-0.6,-1L0,-0.4L0.6,-1L1,-0.6L0.4,0L1,0.6L0.6,1L0,0.4L-0.6,1L-1,0.6L-0.4,0Z","triangle-down","M-1,-0.6L-0.6,-1L0,-0.4L0.6,-1L1,-0.6L0.4,0L1,0.6L0.6,1L0,0.4L-0.6,1L-1,0.6L-0.4,0Z","triangle-down"]}},
  "size":{"field":"s","type":"nominal","scale":{"domain":["MB","MT","LB","LT"],"range":[55,100,55,100]},"legend":null}
 }},
{"mark":{"type":"rule","color":"black","strokeWidth":2,"strokeDash":[7,5]},
 "encoding":{
  "x":{"datum":11,"type":"quantitative","axis":{"orient":"top","values":[0,1,2,3,4,5,6,7,8,9,10,11],"labels":false,"title":null,"grid":false,"domainColor":"black","domainWidth":1.5,"tickColor":"#444","tickWidth":1.5,"tickSize":-7}},
  "y":{"datum":0,"type":"quantitative","axis":{"orient":"right","values":[0,2,4,6,8,10,12],"labels":false,"title":null,"grid":false,"domainColor":"black","domainWidth":1.5,"tickColor":"#444","tickWidth":1.5,"tickSize":-7}},
  "y2":{"datum":12}}},
{"mark":{"type":"text","text":"Rainfall","align":"left","baseline":"alphabetic","font":"Liberation Serif","fontSize":21,"color":"black"},
 "encoding":{"x":{"datum":9.71,"type":"quantitative","axis":null},"y":{"datum":6.2,"type":"quantitative","axis":null}}}
],
"resolve":{"axis":{"x":"independent","y":"independent"}}
}
